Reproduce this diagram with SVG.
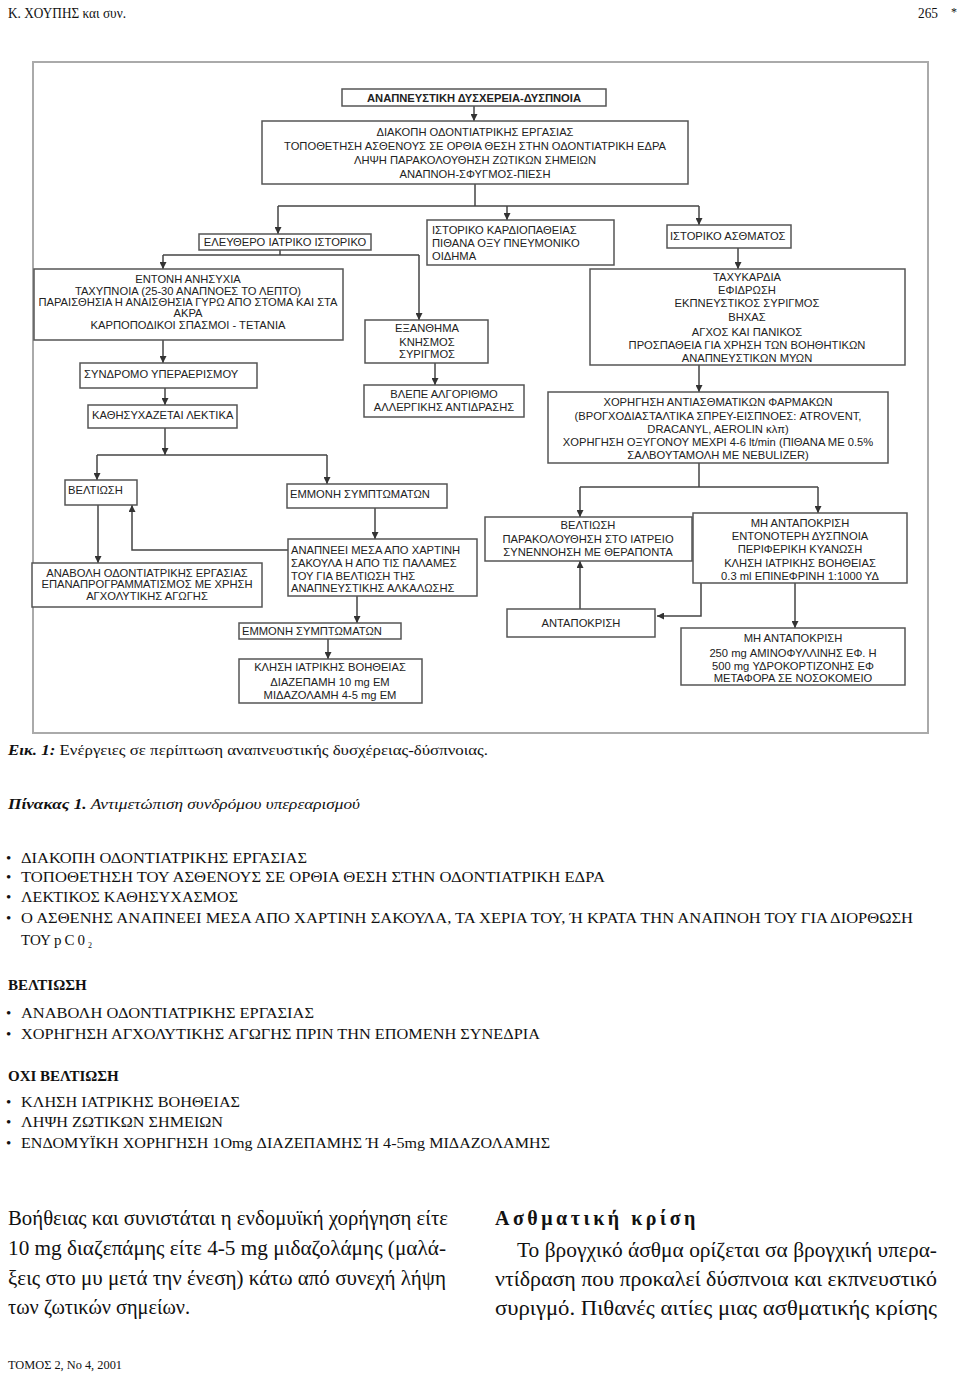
<svg xmlns="http://www.w3.org/2000/svg" width="960" height="1375" viewBox="0 0 960 1375">
<style>
.bx{fill:#fff;stroke:#555;stroke-width:1.5}
.ln{fill:none;stroke:#444;stroke-width:1.5}
.t{font-family:"Liberation Sans",Arial,sans-serif;font-size:11.2px;fill:#222}
.m{text-anchor:middle}
.s{font-family:"Liberation Serif","Times New Roman",serif;fill:#111}
.b{font-size:15px}
.p{font-size:20px}
</style>
<defs>
<marker id="ah" markerUnits="userSpaceOnUse" markerWidth="7" markerHeight="7" refX="7" refY="3.5" orient="auto">
<path d="M0,0 L7,3.5 L0,7 z" fill="#333"/>
</marker>
</defs>
<rect width="960" height="1375" fill="#fff"/>
<g id="header">
<text class="s" x="8" y="18" font-size="15" textLength="118" lengthAdjust="spacingAndGlyphs">Κ. ΧΟΥΠΗΣ και συν.</text>
<text class="s" x="918" y="18" font-size="15" textLength="20" lengthAdjust="spacingAndGlyphs">265</text>
<text class="s" x="951" y="16" font-size="12">*</text>
</g>
<rect id="frame" x="33" y="62" width="895" height="671" fill="none" stroke="#aaa" stroke-width="2"/>
<g id="connectors">
<line class="ln" x1="474" y1="106" x2="474" y2="121" marker-end="url(#ah)"/>
<polyline class="ln" points="475,184 475,206"/>
<polyline class="ln" points="278,206 699,206"/>
<line class="ln" x1="278" y1="206" x2="278" y2="234" marker-end="url(#ah)"/>
<line class="ln" x1="507" y1="206" x2="507" y2="220" marker-end="url(#ah)"/>
<line class="ln" x1="699" y1="206" x2="699" y2="225" marker-end="url(#ah)"/>
<polyline class="ln" points="280,250 280,255"/>
<polyline class="ln" points="163,255 419,255"/>
<line class="ln" x1="163" y1="255" x2="163" y2="269" marker-end="url(#ah)"/>
<line class="ln" x1="419" y1="255" x2="419" y2="320" marker-end="url(#ah)"/>
<line class="ln" x1="163" y1="340" x2="163" y2="363" marker-end="url(#ah)"/>
<line class="ln" x1="165" y1="388" x2="165" y2="405" marker-end="url(#ah)"/>
<line class="ln" x1="165" y1="428" x2="165" y2="455" marker-end="url(#ah)"/>
<polyline class="ln" points="97,455 327,455"/>
<line class="ln" x1="97" y1="455" x2="97" y2="480" marker-end="url(#ah)"/>
<line class="ln" x1="327" y1="455" x2="327" y2="484" marker-end="url(#ah)"/>
<line class="ln" x1="98" y1="505" x2="98" y2="563" marker-end="url(#ah)"/>
<polyline class="ln" points="288,550 132,550 132,505" marker-end="url(#ah)"/>
<line class="ln" x1="375" y1="508" x2="375" y2="539" marker-end="url(#ah)"/>
<line class="ln" x1="357" y1="596" x2="357" y2="623" marker-end="url(#ah)"/>
<line class="ln" x1="328" y1="639" x2="328" y2="659" marker-end="url(#ah)"/>
<line class="ln" x1="435" y1="363" x2="435" y2="385" marker-end="url(#ah)"/>
<line class="ln" x1="738" y1="248" x2="738" y2="269" marker-end="url(#ah)"/>
<line class="ln" x1="699" y1="365" x2="699" y2="392" marker-end="url(#ah)"/>
<polyline class="ln" points="699,463 699,487"/>
<polyline class="ln" points="580,487 818,487"/>
<line class="ln" x1="580" y1="487" x2="580" y2="517" marker-end="url(#ah)"/>
<line class="ln" x1="818" y1="487" x2="818" y2="513" marker-end="url(#ah)"/>
<line class="ln" x1="580" y1="609" x2="580" y2="561" marker-end="url(#ah)"/>
<polyline class="ln" points="701,583 701,616 657,616" marker-end="url(#ah)"/>
<line class="ln" x1="795" y1="583" x2="795" y2="628" marker-end="url(#ah)"/>
</g>
<g id="n-title">
<rect class="bx" x="342" y="89" width="264" height="17"/>
<text class="t m" x="474" y="102" font-size="12" font-weight="bold">ΑΝΑΠΝΕΥΣΤΙΚΗ ΔΥΣΧΕΡΕΙΑ-ΔΥΣΠΝΟΙΑ</text>
</g>
<g id="n-first">
<rect class="bx" x="262" y="121" width="426" height="63"/>
<text class="t m" font-size="12" x="475" y="136">ΔΙΑΚΟΠΗ ΟΔΟΝΤΙΑΤΡΙΚΗΣ ΕΡΓΑΣΙΑΣ</text>
<text class="t m" font-size="12" x="475" y="150">ΤΟΠΟΘΕΤΗΣΗ ΑΣΘΕΝΟΥΣ ΣΕ ΟΡΘΙΑ ΘΕΣΗ ΣΤΗΝ ΟΔΟΝΤΙΑΤΡΙΚΗ ΕΔΡΑ</text>
<text class="t m" font-size="12" x="475" y="164">ΛΗΨΗ ΠΑΡΑΚΟΛΟΥΘΗΣΗ ΖΩΤΙΚΩΝ ΣΗΜΕΙΩΝ</text>
<text class="t m" font-size="12" x="475" y="178">ΑΝΑΠΝΟΗ-ΣΦΥΓΜΟΣ-ΠΙΕΣΗ</text>
</g>
<g id="n-eleuthero">
<rect class="bx" x="199" y="234" width="172" height="16"/>
<text class="t m" x="285" y="246">ΕΛΕΥΘΕΡΟ ΙΑΤΡΙΚΟ ΙΣΤΟΡΙΚΟ</text>
</g>
<g id="n-kardio">
<rect class="bx" x="427" y="220" width="187" height="45"/>
<text class="t" x="432" y="234">ΙΣΤΟΡΙΚΟ ΚΑΡΔΙΟΠΑΘΕΙΑΣ</text>
<text class="t" x="432" y="247">ΠΙΘΑΝΑ ΟΞΥ ΠΝΕΥΜΟΝΙΚΟ</text>
<text class="t" x="432" y="260">ΟΙΔΗΜΑ</text>
</g>
<g id="n-asthma-hist">
<rect class="bx" x="667" y="225" width="124" height="23"/>
<text class="t" x="670" y="240">ΙΣΤΟΡΙΚΟ ΑΣΘΜΑΤΟΣ</text>
</g>
<g id="n-entoni">
<rect class="bx" x="34" y="269" width="309" height="71"/>
<text class="t m" x="188" y="283">ΕΝΤΟΝΗ ΑΝΗΣΥΧΙΑ</text>
<text class="t m" x="188" y="295">ΤΑΧΥΠΝΟΙΑ (25-30 ΑΝΑΠΝΟΕΣ ΤΟ ΛΕΠΤΟ)</text>
<text class="t m" x="188" y="306">ΠΑΡΑΙΣΘΗΣΙΑ Η ΑΝΑΙΣΘΗΣΙΑ ΓΥΡΩ ΑΠΟ ΣΤΟΜΑ ΚΑΙ ΣΤΑ</text>
<text class="t m" x="188" y="317">ΑΚΡΑ</text>
<text class="t m" x="188" y="329">ΚΑΡΠΟΠΟΔΙΚΟΙ ΣΠΑΣΜΟΙ  - ΤΕΤΑΝΙΑ</text>
</g>
<g id="n-syndromo">
<rect class="bx" x="80" y="363" width="177" height="25"/>
<text class="t" x="84" y="378">ΣΥΝΔΡΟΜΟ ΥΠΕΡΑΕΡΙΣΜΟΥ</text>
</g>
<g id="n-kathisyx">
<rect class="bx" x="88" y="405" width="149" height="23"/>
<text class="t" x="92" y="419">ΚΑΘΗΣΥΧΑΖΕΤΑΙ ΛΕΚΤΙΚΑ</text>
</g>
<g id="n-veltiosi1">
<rect class="bx" x="65" y="480" width="72" height="25"/>
<text class="t" x="68" y="494">ΒΕΛΤΙΩΣΗ</text>
</g>
<g id="n-emmoni1">
<rect class="bx" x="287" y="484" width="160" height="24"/>
<text class="t" x="290" y="498">ΕΜΜΟΝΗ ΣΥΜΠΤΩΜΑΤΩΝ</text>
</g>
<g id="n-anavoli">
<rect class="bx" x="32" y="563" width="230" height="44"/>
<text class="t m" x="147" y="577">ΑΝΑΒΟΛΗ ΟΔΟΝΤΙΑΤΡΙΚΗΣ ΕΡΓΑΣΙΑΣ</text>
<text class="t m" x="147" y="588">ΕΠΑΝΑΠΡΟΓΡΑΜΜΑΤΙΣΜΟΣ ΜΕ ΧΡΗΣΗ</text>
<text class="t m" x="147" y="600">ΑΓΧΟΛΥΤΙΚΗΣ ΑΓΩΓΗΣ</text>
</g>
<g id="n-anapneei">
<rect class="bx" x="288" y="539" width="189" height="57"/>
<text class="t" x="291" y="554">ΑΝΑΠΝΕΕΙ ΜΕΣΑ ΑΠΟ ΧΑΡΤΙΝΗ</text>
<text class="t" x="291" y="567">ΣΑΚΟΥΛΑ Η ΑΠΟ ΤΙΣ ΠΑΛΑΜΕΣ</text>
<text class="t" x="291" y="580">ΤΟΥ ΓΙΑ ΒΕΛΤΙΩΣΗ ΤΗΣ</text>
<text class="t" x="291" y="592">ΑΝΑΠΝΕΥΣΤΙΚΗΣ ΑΛΚΑΛΩΣΗΣ</text>
</g>
<g id="n-emmoni2">
<rect class="bx" x="239" y="623" width="162" height="16"/>
<text class="t" x="242" y="635">ΕΜΜΟΝΗ ΣΥΜΠΤΩΜΑΤΩΝ</text>
</g>
<g id="n-klisi">
<rect class="bx" x="239" y="659" width="183" height="44"/>
<text class="t m" x="330" y="671">ΚΛΗΣΗ ΙΑΤΡΙΚΗΣ ΒΟΗΘΕΙΑΣ</text>
<text class="t m" x="330" y="686">ΔΙΑΖΕΠΑΜΗ 10 mg ΕΜ</text>
<text class="t m" x="330" y="699">ΜΙΔΑΖΟΛΑΜΗ 4-5 mg ΕΜ</text>
</g>
<g id="n-exanthima">
<rect class="bx" x="365" y="320" width="123" height="43"/>
<text class="t m" x="427" y="332">ΕΞΑΝΘΗΜΑ</text>
<text class="t m" x="427" y="346">ΚΝΗΣΜΟΣ</text>
<text class="t m" x="427" y="358">ΣΥΡΙΓΜΟΣ</text>
</g>
<g id="n-vlepe">
<rect class="bx" x="364" y="385" width="160" height="32"/>
<text class="t m" x="444" y="398">ΒΛΕΠΕ ΑΛΓΟΡΙΘΜΟ</text>
<text class="t m" x="444" y="411">ΑΛΛΕΡΓΙΚΗΣ ΑΝΤΙΔΡΑΣΗΣ</text>
</g>
<g id="n-tachykardia">
<rect class="bx" x="590" y="269" width="315" height="96"/>
<text class="t m" x="747" y="281">ΤΑΧΥΚΑΡΔΙΑ</text>
<text class="t m" x="747" y="294">ΕΦΙΔΡΩΣΗ</text>
<text class="t m" x="747" y="307">ΕΚΠΝΕΥΣΤΙΚΟΣ ΣΥΡΙΓΜΟΣ</text>
<text class="t m" x="747" y="321">ΒΗΧΑΣ</text>
<text class="t m" x="747" y="336">ΑΓΧΟΣ ΚΑΙ ΠΑΝΙΚΟΣ</text>
<text class="t m" x="747" y="349">ΠΡΟΣΠΑΘΕΙΑ ΓΙΑ ΧΡΗΣΗ ΤΩΝ ΒΟΗΘΗΤΙΚΩΝ</text>
<text class="t m" x="747" y="362">ΑΝΑΠΝΕΥΣΤΙΚΩΝ ΜΥΩΝ</text>
</g>
<g id="n-chorigisi">
<rect class="bx" x="548" y="392" width="340" height="71"/>
<text class="t m" x="718" y="406">ΧΟΡΗΓΗΣΗ ΑΝΤΙΑΣΘΜΑΤΙΚΩΝ ΦΑΡΜΑΚΩΝ</text>
<text class="t m" x="718" y="420">(ΒΡΟΓΧΟΔΙΑΣΤΑΛΤΙΚΑ ΣΠΡΕΥ-ΕΙΣΠΝΟΕΣ: ATROVENT,</text>
<text class="t m" x="718" y="433">DRACANYL, AEROLIN κλπ)</text>
<text class="t m" x="718" y="446">ΧΟΡΗΓΗΣΗ ΟΞΥΓΟΝΟΥ ΜΕΧΡΙ 4-6 lt/min (ΠΙΘΑΝΑ ΜΕ  0.5%</text>
<text class="t m" x="718" y="459">ΣΑΛΒΟΥΤΑΜΟΛΗ ΜΕ NEBULIZER)</text>
</g>
<g id="n-veltiosi2">
<rect class="bx" x="485" y="517" width="207" height="44"/>
<text class="t m" x="588" y="529">ΒΕΛΤΙΩΣΗ</text>
<text class="t m" x="588" y="543">ΠΑΡΑΚΟΛΟΥΘΗΣΗ ΣΤΟ ΙΑΤΡΕΙΟ</text>
<text class="t m" x="588" y="556">ΣΥΝΕΝΝΟΗΣΗ ΜΕ ΘΕΡΑΠΟΝΤΑ</text>
</g>
<g id="n-mi1">
<rect class="bx" x="693" y="513" width="214" height="70"/>
<text class="t m" x="800" y="527">ΜΗ ΑΝΤΑΠΟΚΡΙΣΗ</text>
<text class="t m" x="800" y="540">ΕΝΤΟΝΟΤΕΡΗ ΔΥΣΠΝΟΙΑ</text>
<text class="t m" x="800" y="553">ΠΕΡΙΦΕΡΙΚΗ ΚΥΑΝΩΣΗ</text>
<text class="t m" x="800" y="567">ΚΛΗΣΗ ΙΑΤΡΙΚΗΣ ΒΟΗΘΕΙΑΣ</text>
<text class="t m" x="800" y="580">0.3 ml ΕΠΙΝΕΦΡΙΝΗ 1:1000 ΥΔ</text>
</g>
<g id="n-antapokrisi">
<rect class="bx" x="507" y="609" width="148" height="28"/>
<text class="t m" x="581" y="627">ΑΝΤΑΠΟΚΡΙΣΗ</text>
</g>
<g id="n-mi2">
<rect class="bx" x="681" y="628" width="224" height="57"/>
<text class="t m" x="793" y="642">ΜΗ ΑΝΤΑΠΟΚΡΙΣΗ</text>
<text class="t m" x="793" y="657">250 mg  ΑΜΙΝΟΦΥΛΛΙΝΗΣ ΕΦ. Η</text>
<text class="t m" x="793" y="670">500 mg ΥΔΡΟΚΟΡΤΙΖΟΝΗΣ ΕΦ</text>
<text class="t m" x="793" y="682">ΜΕΤΑΦΟΡΑ ΣΕ ΝΟΣΟΚΟΜΕΙΟ</text>
</g>
<g id="caption">
<text class="s" x="8" y="755" font-size="14.5" textLength="480" lengthAdjust="spacingAndGlyphs"><tspan font-weight="bold" font-style="italic">Εικ. 1:</tspan> Ενέργειες σε περίπτωση αναπνευστικής δυσχέρειας-δύσπνοιας.</text>
<text class="s" x="8" y="809" font-size="14.5" font-style="italic" textLength="352" lengthAdjust="spacingAndGlyphs"><tspan font-weight="bold">Πίνακας 1.</tspan> Αντιμετώπιση συνδρόμου υπερεαρισμού</text>
</g>
<g id="table">
<text class="s b" x="6" y="863">•</text>
<text class="s b" x="21" y="863" textLength="286" lengthAdjust="spacingAndGlyphs">ΔΙΑΚΟΠΗ ΟΔΟΝΤΙΑΤΡΙΚΗΣ ΕΡΓΑΣΙΑΣ</text>
<text class="s b" x="6" y="882">•</text>
<text class="s b" x="21" y="882" textLength="584" lengthAdjust="spacingAndGlyphs">ΤΟΠΟΘΕΤΗΣΗ ΤΟΥ ΑΣΘΕΝΟΥΣ ΣΕ ΟΡΘΙΑ ΘΕΣΗ ΣΤΗΝ ΟΔΟΝΤΙΑΤΡΙΚΗ ΕΔΡΑ</text>
<text class="s b" x="6" y="902">•</text>
<text class="s b" x="21" y="902" textLength="217" lengthAdjust="spacingAndGlyphs">ΛΕΚΤΙΚΟΣ   ΚΑΘΗΣΥΧΑΣΜΟΣ</text>
<text class="s b" x="6" y="923">•</text>
<text class="s b" x="21" y="923" textLength="892" lengthAdjust="spacingAndGlyphs">Ο ΑΣΘΕΝΗΣ ΑΝΑΠΝΕΕΙ ΜΕΣΑ ΑΠΟ ΧΑΡΤΙΝΗ ΣΑΚΟΥΛΑ, ΤΑ ΧΕΡΙΑ ΤΟΥ, Ή ΚΡΑΤΑ ΤΗΝ ΑΝΑΠΝΟΗ ΤΟΥ ΓΙΑ ΔΙΟΡΘΩΣΗ</text>
<text class="s b" x="21" y="945">ΤΟΥ <tspan letter-spacing="3">pC0</tspan><tspan font-size="8" dy="3">2</tspan></text>
<text class="s b" x="8" y="990" font-weight="bold">ΒΕΛΤΙΩΣΗ</text>
<text class="s b" x="6" y="1018">•</text>
<text class="s b" x="21" y="1018" textLength="293" lengthAdjust="spacingAndGlyphs">ΑΝΑΒΟΛΗ ΟΔΟΝΤΙΑΤΡΙΚΗΣ ΕΡΓΑΣΙΑΣ</text>
<text class="s b" x="6" y="1039">•</text>
<text class="s b" x="21" y="1039" textLength="519" lengthAdjust="spacingAndGlyphs">ΧΟΡΗΓΗΣΗ ΑΓΧΟΛΥΤΙΚΗΣ ΑΓΩΓΗΣ ΠΡΙΝ ΤΗΝ ΕΠΟΜΕΝΗ ΣΥΝΕΔΡΙΑ</text>
<text class="s b" x="8" y="1081" font-weight="bold">ΟΧΙ ΒΕΛΤΙΩΣΗ</text>
<text class="s b" x="6" y="1107">•</text>
<text class="s b" x="21" y="1107" textLength="219" lengthAdjust="spacingAndGlyphs">ΚΛΗΣΗ ΙΑΤΡΙΚΗΣ ΒΟΗΘΕΙΑΣ</text>
<text class="s b" x="6" y="1127">•</text>
<text class="s b" x="21" y="1127" textLength="202" lengthAdjust="spacingAndGlyphs">ΛΗΨΗ ΖΩΤΙΚΩΝ ΣΗΜΕΙΩΝ</text>
<text class="s b" x="6" y="1148">•</text>
<text class="s b" x="21" y="1148" textLength="529" lengthAdjust="spacingAndGlyphs">ΕΝΔΟΜΥΪΚΗ ΧΟΡΗΓΗΣΗ 1Omg ΔΙΑΖΕΠΑΜΗΣ Ή 4-5mg ΜΙΔΑΖΟΛΑΜΗΣ</text>
</g>
<g id="body">
<text class="s p" x="8" y="1225" textLength="440" lengthAdjust="spacingAndGlyphs">Βοήθειας και συνιστάται η ενδομυϊκή χορήγηση είτε</text>
<text class="s p" x="8" y="1255" textLength="438" lengthAdjust="spacingAndGlyphs">10 mg διαζεπάμης είτε 4-5 mg μιδαζολάμης (μαλά-</text>
<text class="s p" x="8" y="1285" textLength="438" lengthAdjust="spacingAndGlyphs">ξεις στο μυ μετά την ένεση) κάτω από συνεχή λήψη</text>
<text class="s p" x="8" y="1314" textLength="182" lengthAdjust="spacingAndGlyphs">των ζωτικών σημείων.</text>
<text class="s p" x="495" y="1225" font-weight="bold" letter-spacing="3.5">Ασθματική  κρίση</text>
<text class="s p" x="517" y="1257" textLength="420" lengthAdjust="spacingAndGlyphs">Το βρογχικό άσθμα ορίζεται σα βρογχική υπερα-</text>
<text class="s p" x="495" y="1286" textLength="442" lengthAdjust="spacingAndGlyphs">ντίδραση που προκαλεί δύσπνοια και εκπνευστικό</text>
<text class="s p" x="495" y="1315" textLength="442" lengthAdjust="spacingAndGlyphs">συριγμό. Πιθανές αιτίες μιας ασθματικής κρίσης</text>
</g>
<g id="footer">
<text class="s" x="8" y="1369" font-size="12" textLength="114" lengthAdjust="spacingAndGlyphs">ΤΟΜΟΣ 2, Νο 4, 2001</text>
</g>
</svg>
